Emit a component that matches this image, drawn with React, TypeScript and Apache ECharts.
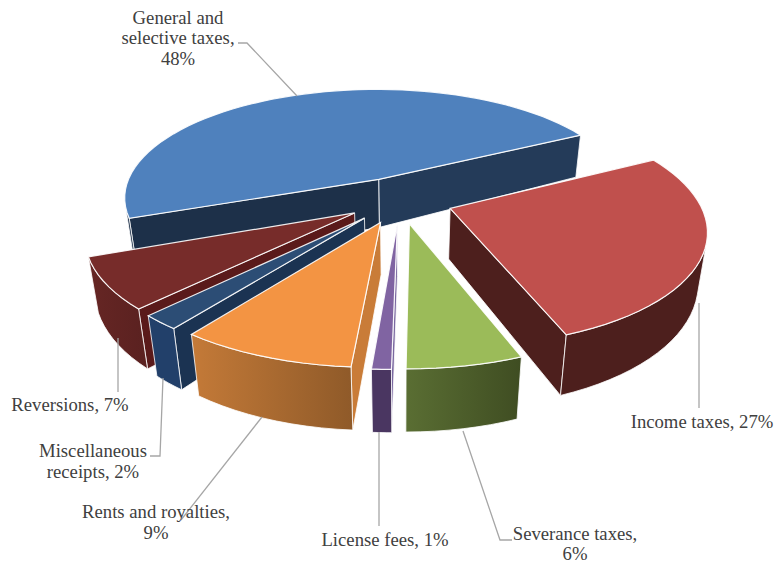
import React, { useEffect, useRef } from "react";
import * as echarts from "echarts";

const categories = [
  "General and selective taxes",
  "Income taxes",
  "Severance taxes",
  "License fees",
  "Rents and royalties",
  "Miscellaneous receipts",
  "Reversions",
];
const shares = [48, 27, 6, 1, 9, 2, 7];
const drawOrder = [0, 6, 5, 1, 2, 3, 4];
const labelTexts = [
  "General and\nselective taxes,\n48%",
  "Income taxes, 27%",
  "Severance taxes,\n6%",
  "License fees, 1%",
  "Rents and royalties,\n9%",
  "Miscellaneous\nreceipts, 2%",
  "Reversions, 7%",
];
const labelAnchors: number[][] = [
  [178, 37.5],
  [702, 421],
  [575, 543.5],
  [385, 539],
  [156, 522],
  [93, 461],
  [70, 404],
];
const leaders: number[][][] = [
  [[238, 43], [247, 43], [297, 96]],
  [[699, 303], [699, 408]],
  [[463, 431], [500, 540], [512, 540]],
  [[379, 432], [379, 526]],
  [[262, 417], [181, 520]],
  [[163, 378], [160, 456], [150, 456]],
  [[118, 338], [118, 392]],
];
const topColors = ["#4f81bd", "#c0504d", "#9bbb59", "#8064a2", "#f39443", "#2c4d75", "#772c2a"];
const startWall = ["#1d3049", "#4d1f1d", "#46562a", "#7a68a0", "#c97c38", "#1b3352", "#5a1a1a"];
const endWall = ["#243b59", "#4d1f1d", "#46562a", "#4a3661", "#c97c38", "#1b3352", "#5a1a1a"];
const arcWall: string[][] = [
  ["#1d3049", "#1d3049"],
  ["#4d1f1d", "#4d1f1d"],
  ["#5a6e33", "#3f4d22"],
  ["#4a3661", "#4a3661"],
  ["#c47a38", "#8f5a29"],
  ["#22406a", "#22406a"],
  ["#662624", "#5a2120"],
];

const START = -115.5;
const EXPLODE = 0.209;
const CX = 400;
const CY = 200;
const SX = 253;
const SY = 111;
const SHEAR_X = 21.5;
const SHEAR_Y = 10;
const K = 0.17;
const WALL_BASE = 50;
const WALL_SLOPE = 11;
const DEPTH = 0.03;

const rad = (d: number) => (d * Math.PI) / 180;
function project(x: number, y: number, d: number): number[] {
  const w = 1 - K * y;
  return [
    CX + (SX * x - SHEAR_X * y) / (w + DEPTH * d),
    CY + (SY * y + SHEAR_Y * x) / w + d * (WALL_BASE + WALL_SLOPE * y),
  ];
}
const total = shares.reduce((a, b) => a + b, 0);

function sliceAngles(i: number): number[] {
  let before = 0;
  for (let j = 0; j < i; j++) before += shares[j];
  const a0 = START + (before / total) * 360;
  return [a0, a0 + (shares[i] / total) * 360];
}

function shoelace(pts: number[][]): number {
  let s = 0;
  pts.forEach((p, k) => {
    const q = pts[(k + 1) % pts.length];
    s += p[0] * q[1] - q[0] * p[1];
  });
  return s;
}

function renderSlice(_p: any, api: any) {
  const i = api.value(0) as number;
  const [a0, a1] = sliceAngles(i);
  const mid = (a0 + a1) / 2;
  const ox = Math.sin(rad(mid)) * EXPLODE;
  const oy = -Math.cos(rad(mid)) * EXPLODE;
  const steps = Math.max(4, Math.ceil((a1 - a0) / 3));
  const rim: number[][] = [];
  for (let s = 0; s <= steps; s++) {
    const a = rad(a0 + ((a1 - a0) * s) / steps);
    rim.push([ox + Math.sin(a), oy - Math.cos(a)]);
  }
  const top = (p: number[]) => project(p[0], p[1], 0);
  const bot = (p: number[]) => project(p[0], p[1], 1);
  const apex = [ox, oy];
  const first = rim[0];
  const last = rim[rim.length - 1];
  const edge = { stroke: "rgba(255,255,255,0.8)", lineWidth: 1 };
  const poly = (points: number[][], fill: any, style: any = edge) => ({
    type: "polygon",
    silent: true,
    shape: { points },
    style: { fill, ...style },
  });
  const grad = new echarts.graphic.LinearGradient(0, 0, 1, 0, [
    { offset: 0, color: arcWall[i][0] },
    { offset: 1, color: arcWall[i][1] },
  ]);
  const children: any[] = [];
  const startFace = [top(apex), top(first), bot(first), bot(apex)];
  const endFace = [top(apex), top(last), bot(last), bot(apex)];
  if (shoelace(startFace) < 0) children.push(poly(startFace, startWall[i]));
  if (shoelace(endFace) > 0) children.push(poly(endFace, endWall[i]));
  let run: number[][] = [];
  const flush = () => {
    if (run.length > 1) {
      children.push(poly([...run.map(top), ...run.slice().reverse().map(bot)], grad));
    }
    run = [];
  };
  for (let s = 0; s < rim.length - 1; s++) {
    const p = rim[s];
    const q = rim[s + 1];
    if (shoelace([top(p), top(q), bot(q), bot(p)]) < 0) {
      if (run.length === 0) run.push(p);
      run.push(q);
    } else {
      flush();
    }
  }
  flush();
  children.push(
    poly([top(apex), ...rim.map(top)], topColors[i], {
      stroke: "rgba(255,255,255,0.9)",
      lineWidth: 1.2,
    })
  );
  return { type: "group", children };
}

export default function App() {
  const ref = useRef<HTMLDivElement>(null);
  useEffect(() => {
    if (!ref.current) return;
    const chart = echarts.init(ref.current, null, { renderer: "svg" });
    chart.setOption({
      animation: false,
      backgroundColor: "#ffffff",
      series: [
        {
          type: "custom",
          coordinateSystem: "none",
          silent: true,
          renderItem: renderSlice,
          data: drawOrder.map((i) => ({ name: categories[i], value: [i, shares[i]] })),
        },
      ],
      graphic: [
        ...leaders.map((points) => ({
          type: "polyline",
          silent: true,
          z: 10,
          shape: { points },
          style: { stroke: "#a6a6a6", lineWidth: 1.3, fill: "none" },
        })),
        ...labelTexts.map((text, i) => ({
          type: "text",
          silent: true,
          z: 11,
          x: labelAnchors[i][0],
          y: labelAnchors[i][1],
          style: {
            text,
            fill: "#404040",
            font: "18.7px 'Liberation Serif'",
            lineHeight: 20.5,
            align: "center",
            verticalAlign: "middle",
          },
        })),
      ],
    });
    return () => chart.dispose();
  }, []);
  return (
    <div
      ref={ref}
      style={{ position: "fixed", left: 0, top: 0, width: 774, height: 563 }}
    />
  );
}
